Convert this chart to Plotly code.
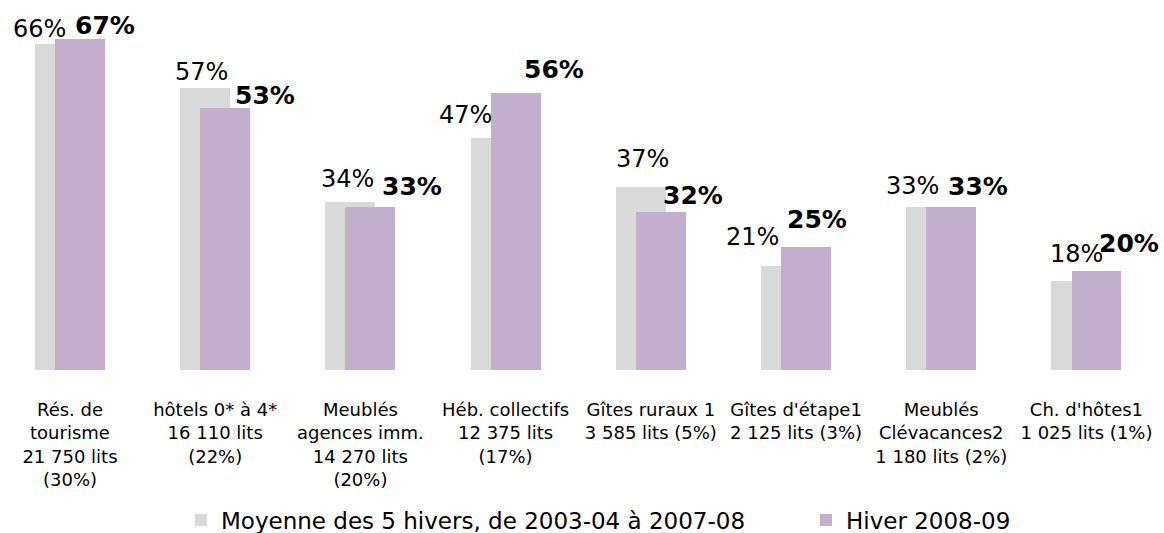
import plotly.graph_objects as go

categories = [
    "Rés. de<br>tourisme<br>21 750 lits<br>(30%)",
    "hôtels 0* à 4*<br>16 110 lits<br>(22%)",
    "Meublés<br>agences imm.<br>14 270 lits<br>(20%)",
    "Héb. collectifs<br>12 375 lits<br>(17%)",
    "Gîtes ruraux 1<br>3 585 lits (5%)",
    "Gîtes d'étape1<br>2 125 lits (3%)",
    "Meublés<br>Clévacances2<br>1 180 lits (2%)",
    "Ch. d'hôtes1<br>1 025 lits (1%)",
]
moyenne = [66, 57, 34, 47, 37, 21, 33, 18]
hiver = [67, 53, 33, 56, 32, 25, 33, 20]
series_names = ["Moyenne des 5 hivers, de 2003-04 à 2007-08", "Hiver 2008-09"]

# label placement offsets (px), styling only
grey_dx = [-30, -14, -13, -40, -8, -44, -29, -10]
grey_dy = [15, 16, 23, 23, 28, 29, 21, 27]
purple_dx = [35, 50, 52, 48, 42, 21, 37, 43]
purple_dy = [14, 13, 21, 24, 16, 27, 21, 28]

GREY = "#D9D9D9"
PURPLE = "#C3AECD"
FONT = "DejaVu Sans"

fig = go.Figure()
fig.add_trace(go.Bar(
    x=categories, y=moyenne, name=series_names[0],
    marker=dict(color=GREY, line=dict(width=0)),
    width=0.344, offset=-0.241, legend="legend",
))
fig.add_trace(go.Bar(
    x=categories, y=hiver, name=series_names[1],
    marker=dict(color=PURPLE, line=dict(width=0)),
    width=0.344, offset=-0.103, legend="legend2",
))

annotations = []
for i, c in enumerate(categories):
    annotations.append(dict(
        x=c, y=moyenne[i], xref="x", yref="y", text=f"{moyenne[i]}%",
        showarrow=False, xanchor="center", yanchor="middle",
        xshift=grey_dx[i], yshift=grey_dy[i],
        font=dict(family=FONT, size=24, color="black"),
    ))
    annotations.append(dict(
        x=c, y=hiver[i], xref="x", yref="y", text=f"<b>{hiver[i]}%</b>",
        showarrow=False, xanchor="center", yanchor="middle",
        xshift=purple_dx[i], yshift=purple_dy[i],
        font=dict(family=FONT, size=25, color="black"),
    ))

legend_style = dict(
    orientation="h", yanchor="middle", y=-0.411, xanchor="left",
    font=dict(family=FONT, size=23, color="black"),
    itemwidth=30, bgcolor="rgba(0,0,0,0)",
)

fig.update_layout(
    width=1164, height=533,
    margin=dict(l=0, r=0, t=5, b=163, autoexpand=False),
    paper_bgcolor="white", plot_bgcolor="white",
    barmode="overlay",
    bargap=0,
    font=dict(family=FONT, color="black"),
    showlegend=True,
    legend=dict(legend_style, x=181 / 1164),
    legend2=dict(legend_style, x=806 / 1164),
    annotations=annotations,
)
fig.update_xaxes(
    type="category", range=[-0.482, 7.534], showline=False, showgrid=False,
    zeroline=False, tickangle=0, ticks="", ticklabelstandoff=27,
    automargin=False,
    tickfont=dict(family=FONT, size=18, color="black"),
)
fig.update_yaxes(
    range=[0, 73.9], showticklabels=False, showgrid=False, zeroline=False,
    showline=False, automargin=False,
)

fig.write_html(
    "out.html",
    config={"displayModeBar": False},
    post_script="document.body.style.margin='0';document.body.style.overflow='hidden';",
)
